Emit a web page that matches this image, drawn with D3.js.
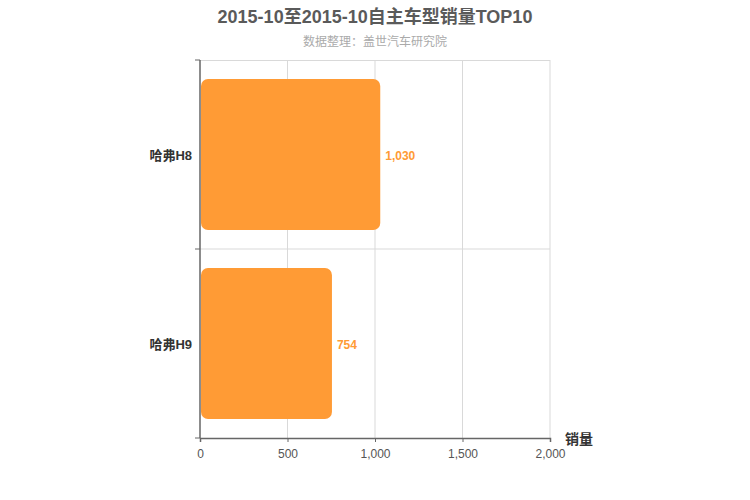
<!DOCTYPE html>
<html>
<head>
<meta charset="utf-8">
<script src="https://cdn.jsdelivr.net/npm/d3@7"></script>
<style>
  body { margin: 0; background: #fff; }
  text { font-family: "Helvetica Neue", Arial, "Liberation Sans", "Noto Sans CJK SC", sans-serif; }
</style>
</head>
<body>
<script>
// data
var models = ["哈弗H8", "哈弗H9"];
var sales = [1030, 754];
var xTicks = [0, 500, 1000, 1500, 2000];

var W = 750, H = 500;
var margin = {top: 60, right: 200, bottom: 62, left: 200},
    width = W - margin.left - margin.right,
    height = H - margin.top - margin.bottom;

var svg = d3.select("body").append("svg").attr("width", W).attr("height", H);

// title
svg.append("text").attr("x", 375).attr("y", 23).attr("text-anchor", "middle")
    .style("font-size", "18px").style("font-weight", "bold").style("fill", "#5a5a5a")
    .text("2015-10至2015-10自主车型销量TOP10");
svg.append("text").attr("x", 375).attr("y", 46).attr("text-anchor", "middle")
    .style("font-size", "12px").style("fill", "#aaa")
    .text("数据整理：盖世汽车研究院");

var main = svg.append("g").attr("transform", "translate(" + margin.left + "," + margin.top + ")");

var xscale = d3.scaleLinear().domain([0, 2000]).range([0, width]);
var yscale = d3.scaleBand().domain(models).range([0, height]).paddingInner(0.2).paddingOuter(0.1);

// grid
main.selectAll(".vgrid").data(xTicks.slice(1)).enter().append("line")
    .attr("x1", function (d) { return xscale(d); }).attr("x2", function (d) { return xscale(d); })
    .attr("y1", 0).attr("y2", height)
    .style("stroke", "#d9d9d9").style("stroke-width", 1);
main.append("line").attr("x1", 0).attr("x2", width).attr("y1", 0.5).attr("y2", 0.5)
    .style("stroke", "#d9d9d9");
main.append("line").attr("x1", 0).attr("x2", width)
    .attr("y1", height / 2).attr("y2", height / 2)
    .style("stroke", "#d9d9d9");

// bars
main.selectAll(".bar").data(sales).enter().append("rect")
    .attr("x", 1)
    .attr("y", function (d, i) { return yscale(models[i]); })
    .attr("width", function (d) { return xscale(d) - 1; })
    .attr("height", yscale.bandwidth())
    .attr("rx", 7).attr("ry", 7)
    .style("fill", "#ff9b35");

// value labels
main.selectAll(".val").data(sales).enter().append("text")
    .attr("x", function (d) { return xscale(d) + 5; })
    .attr("y", function (d, i) { return yscale(models[i]) + yscale.bandwidth() / 2 + 1; })
    .attr("dy", "0.35em")
    .style("font-size", "12px").style("font-weight", "bold").style("fill", "#ff9b35")
    .text(function (d) { return d3.format(",")(d); });

// x axis
var xAxis = d3.axisBottom(xscale).tickValues(xTicks).tickFormat(d3.format(",")).tickSize(4);
var gx = main.append("g").attr("transform", "translate(0," + height + ")").call(xAxis);
gx.select(".domain").style("stroke", "#666").style("stroke-width", 1.5);
gx.selectAll(".tick line").style("stroke", "#666");
gx.selectAll("text").style("font-size", "12px").style("fill", "#555").attr("dy", "1.1em");

// y axis
var gy = main.append("g");
gy.append("line").attr("x1", 0).attr("x2", 0).attr("y1", 0).attr("y2", height)
    .style("stroke", "#666").style("stroke-width", 1.5);
gy.selectAll(".yt").data([0, height / 2, height]).enter().append("line")
    .attr("x1", -5).attr("x2", 0)
    .attr("y1", function (d) { return d; }).attr("y2", function (d) { return d; })
    .style("stroke", "#666");
gy.selectAll(".ylab").data(models).enter().append("text")
    .attr("x", -8)
    .attr("y", function (d) { return yscale(d) + yscale.bandwidth() / 2 + 1; })
    .attr("dy", "0.35em").attr("text-anchor", "end")
    .style("font-size", "13px").style("font-weight", "bold").style("fill", "#333")
    .text(function (d) { return d; });

// axis name
main.append("text").attr("x", width + 15).attr("y", height + 6)
    .style("font-size", "14px").style("font-weight", "bold").style("fill", "#333")
    .text("销量");
</script>
</body>
</html>
